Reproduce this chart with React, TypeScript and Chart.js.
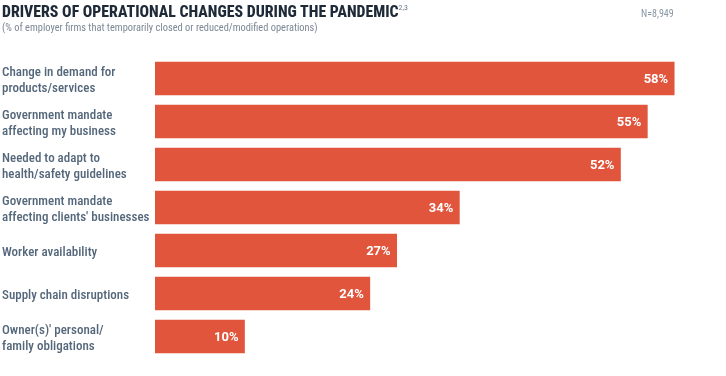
import React, { useEffect, useRef } from "react";
import { Chart, registerables } from "chart.js";

Chart.register(...registerables);

const categories: string[][] = [
  ["Change in demand for", "products/services"],
  ["Government mandate", "affecting my business"],
  ["Needed to adapt to", "health/safety guidelines"],
  ["Government mandate", "affecting clients' businesses"],
  ["Worker availability"],
  ["Supply chain disruptions"],
  ["Owner(s)' personal/", "family obligations"],
];
const values: number[] = [58, 55, 52, 34, 27, 24, 10];
const titleText = "DRIVERS OF OPERATIONAL CHANGES DURING THE PANDEMIC";
const titleSup = "2,3";
const subtitleText = "(% of employer firms that temporarily closed or reduced/modified operations)";
const nText = "N=8,949";

const BAR = "#E0553B";
const LABEL = "#53667A";
const FAMILY = "Roboto, sans-serif";

const valueLabels = {
  id: "valueLabels",
  afterDatasetsDraw(chart: any) {
    const { ctx } = chart;
    const meta = chart.getDatasetMeta(0);
    ctx.save();
    ctx.fillStyle = "#ffffff";
    ctx.font = "bold 13px Roboto, sans-serif";
    ctx.textAlign = "right";
    ctx.textBaseline = "middle";
    meta.data.forEach((bar: any, i: number) => {
      ctx.fillText(values[i] + "%", bar.x - 6, bar.y + 1);
    });
    ctx.restore();
  },
};

export default function App() {
  const ref = useRef<HTMLCanvasElement>(null);
  useEffect(() => {
    if (!ref.current) return;
    const chart = new Chart(ref.current, {
      type: "bar",
      data: {
        labels: categories,
        datasets: [
          {
            data: values,
            backgroundColor: BAR,
            borderWidth: 0,
            barThickness: 33,
          },
        ],
      },
      options: {
        indexAxis: "y",
        animation: false,
        responsive: false,
        maintainAspectRatio: false,
        layout: { padding: { left: 2, top: 57, bottom: 18, right: 16 } },
        plugins: { legend: { display: false }, tooltip: { enabled: false }, title: { display: false } },
        scales: {
          x: { display: false, min: 0, max: 62 },
          y: {
            grid: { display: false, drawTicks: false },
            border: { display: false },
            ticks: {
              crossAlign: "far",
              color: LABEL,
              padding: 0,
              labelOffset: 2,
              font: { family: FAMILY, size: 13, weight: "500 condensed" as any, lineHeight: 1.2 },
            },
            afterFit: (s: any) => {
              s.width = 153;
            },
          },
        },
      },
      plugins: [valueLabels],
    });
    return () => chart.destroy();
  }, []);

  return (
    <div style={{ position: "fixed", left: 0, top: 0, width: 726, height: 376, background: "#fff", overflow: "hidden" }}>
      <canvas ref={ref} width={726} height={376} style={{ position: "absolute", left: 0, top: 0 }} />
      <div
        style={{
          position: "absolute",
          left: 2,
          top: 3,
          fontFamily: FAMILY,
          fontStretch: "75%",
          fontWeight: 800,
          fontSize: 15.8,
          color: "#1E2A38",
          whiteSpace: "nowrap",
          lineHeight: "18px",
        }}
      >
        {titleText}
        <sup style={{ fontSize: 8, verticalAlign: "top", lineHeight: "10px", fontWeight: "normal", color: "#6F7C89" }}>{titleSup}</sup>
      </div>
      <div
        style={{
          position: "absolute",
          left: 2,
          top: 21,
          fontFamily: FAMILY,
          fontStretch: "75%",
          fontSize: 10.4,
          color: "#7C8894",
          whiteSpace: "nowrap",
          lineHeight: "14px",
        }}
      >
        {subtitleText}
      </div>
      <div
        style={{
          position: "absolute",
          left: 641,
          top: 8,
          fontFamily: FAMILY,
          fontStretch: "75%",
          fontSize: 10,
          color: "#8A97A4",
          whiteSpace: "nowrap",
          lineHeight: "12px",
        }}
      >
        {nText}
      </div>
    </div>
  );
}
